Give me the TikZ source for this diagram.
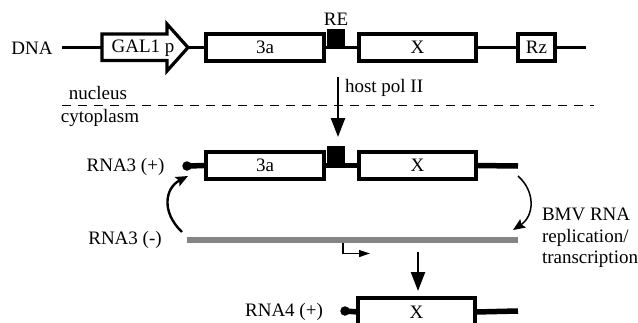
\documentclass[tikz,border=0pt]{standalone}
\usepackage{fontspec}
\setmainfont{Liberation Serif}
\usetikzlibrary{arrows.meta}
\begin{document}
\begin{tikzpicture}[x=1pt,y=-1pt,
  every node/.style={font=\fontsize{19}{21.5}\selectfont, inner sep=0pt, outer sep=0pt},
  gene/.style={draw, line width=3.2pt, fill=white, minimum height=27pt},
  dnaline/.style={line width=2.5pt},
  rnaline/.style={line width=5.5pt},
  resq/.style={fill=black, draw=none, minimum width=18pt, minimum height=19pt},
  capdot/.style={circle, fill=black, minimum size=9.5pt},
  bigarrow/.style={line width=2.4pt, -{Triangle[length=19pt,width=14pt]}},
  curvearrow/.style={-{Stealth[length=12pt,width=10pt,inset=2pt]}},
]
\useasboundingbox (0,0) rectangle (638,322);

% ---------- DNA row ----------
\node (dnalbl) at (32,48) {DNA};
\coordinate (dnaL) at (62,47.5);
\coordinate (galL) at (102,47.5);
\coordinate (galTip) at (188,47.5);
\draw[line width=3.2pt, line join=miter, fill=white]
  (102,34) -- (167,34) -- (167,24) -- (188,47.5) -- (167,71) -- (167,60.5) -- (102,60.5) -- cycle;
\node (gal) at (143,48) {GAL1 p};
\node[gene, minimum width=118pt] (d3a) at (265,47.5) {3a};
\node[resq] (dre) at (336,38.5) {};
\node (relbl) at (336,19) {RE};
\node[gene, minimum width=117pt] (dX) at (417.5,47.5) {X};
\node[gene, minimum width=37pt] (dRz) at (536.5,47.5) {Rz};
\coordinate (dnaR) at (586,47.5);
\draw[dnaline] (dnaL) -- (galL);
\draw[dnaline] (galTip) -- (d3a.west);
\draw[dnaline] (d3a.east) -- (dX.west);
\draw[dnaline] (dX.east) -- (dRz.west);
\draw[dnaline] (dRz.east) -- (dnaR);

% ---------- nucleus / cytoplasm ----------
\coordinate (dashL) at (62,105.5);
\coordinate (dashR) at (594,105.5);
\draw[line width=1.6pt, dash pattern=on 9pt off 7pt] (dashL) -- (dashR);
\node (nuc) at (98,93) {nucleus};
\node (cyto) at (100,118) {cytoplasm};

% ---------- host pol II ----------
\coordinate (polTop) at (338,77);
\coordinate (polTip) at (338,137);
\draw[bigarrow] (polTop) -- (polTip);
\node[anchor=west] (pollbl) at (345,88) {host pol II};

% ---------- RNA3 (+) ----------
\node (r3plbl) at (125.5,167) {RNA3 (+)};
\node[capdot] (r3cap) at (187,166) {};
\node[gene, minimum width=118pt] (r3a) at (265,165.5) {3a};
\node[resq, minimum height=20pt] (rre) at (336,156) {};
\node[gene, minimum width=117pt] (rX) at (417.5,165.5) {X};
\coordinate (r3R) at (518,166);
\draw[rnaline] (r3cap.center) -- (r3a.west);
\draw[rnaline] (r3a.east) -- (rX.west);
\draw[rnaline] (rX.east) -- (r3R);

% ---------- RNA3 (-) ----------
\node (r3mlbl) at (125,240) {RNA3 (-)};
\coordinate (minusL) at (187,240);
\coordinate (minusR) at (518,240);
\draw[line width=6pt, black!48] (minusL) -- (minusR);

% curved arrows
\coordinate (rcStart) at (518,176);
\coordinate (rcEnd) at (513,230);
\draw[line width=1.5pt, curvearrow] (rcStart) .. controls (536,192) and (534,216) .. (rcEnd);
\coordinate (lcStart) at (182,232);
\coordinate (lcEnd) at (188,176);
\draw[line width=2.4pt, curvearrow] (lcStart) .. controls (161,212) and (165,188) .. (lcEnd);

\node[anchor=west, align=left] (bmv) at (542,238) {BMV RNA\\replication/\\transcription};

% subgenomic promoter
\coordinate (sgA) at (343,243);
\coordinate (sgB) at (343,253.5);
\coordinate (sgC) at (370,253.5);
\draw[line width=1.2pt, -{Triangle[length=11pt,width=7pt]}] (sgA) -- (sgB) -- (sgC);

% down arrow
\coordinate (dnTop) at (418,252);
\coordinate (dnTip) at (418,291);
\draw[bigarrow] (dnTop) -- (dnTip);

% ---------- RNA4 (+) ----------
\node (r4lbl) at (284,312) {RNA4 (+)};
\node[capdot] (r4cap) at (345,311) {};
\node[gene, minimum width=117pt, minimum height=28pt] (r4X) at (416.5,312) {X};
\coordinate (r4R) at (518,311);
\draw[rnaline] (r4cap.center) -- (r4X.west);
\draw[rnaline] (r4X.east) -- (r4R);
\end{tikzpicture}
\end{document}
